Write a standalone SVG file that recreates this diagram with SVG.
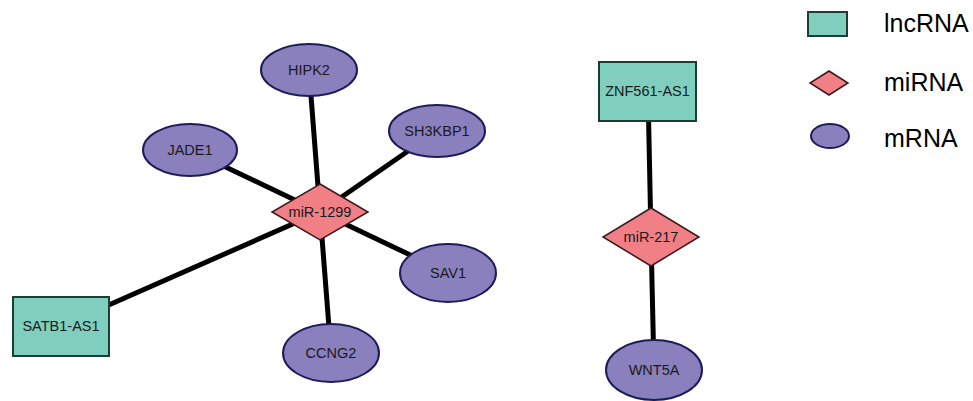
<svg xmlns="http://www.w3.org/2000/svg" width="973" height="401" viewBox="0 0 973 401">
<style>
.edge{stroke:#000;stroke-width:5;fill:none}
.lnc{fill:#80cfbe;stroke:#1b3d32;stroke-width:2}
.mir{fill:#f07f86;stroke:#3a1a1c;stroke-width:1.5}
.mrna{fill:#8a80bd;stroke:#1c1c58;stroke-width:2}
.lbl{font-family:"Liberation Sans",Arial,sans-serif;font-size:14.5px;fill:#1a1a1a;text-anchor:middle;dominant-baseline:central}
.leg{font-family:"Liberation Sans",Arial,sans-serif;font-size:25px;fill:#000}
</style>
<rect width="973" height="401" fill="#fff"/>
<g id="edges">
<line class="edge" x1="320" y1="212" x2="309" y2="70"/>
<line class="edge" x1="320" y1="212" x2="190" y2="150"/>
<line class="edge" x1="320" y1="212" x2="437" y2="131"/>
<line class="edge" x1="320" y1="212" x2="448" y2="273"/>
<line class="edge" x1="320" y1="212" x2="331" y2="353"/>
<line class="edge" x1="320" y1="212" x2="61" y2="326"/>
<line class="edge" x1="648" y1="91" x2="651" y2="237"/>
<line class="edge" x1="651" y1="237" x2="654" y2="370"/>
</g>
<g id="HIPK2"><ellipse class="mrna" cx="309" cy="70" rx="48" ry="26"/><text class="lbl" x="309" y="70">HIPK2</text></g>
<g id="JADE1"><ellipse class="mrna" cx="190" cy="150" rx="47" ry="26"/><text class="lbl" x="190" y="150">JADE1</text></g>
<g id="SH3KBP1"><ellipse class="mrna" cx="437" cy="131" rx="48" ry="26"/><text class="lbl" x="437" y="131">SH3KBP1</text></g>
<g id="SAV1"><ellipse class="mrna" cx="448" cy="273" rx="48" ry="29"/><text class="lbl" x="448" y="273">SAV1</text></g>
<g id="CCNG2"><ellipse class="mrna" cx="331" cy="353" rx="48" ry="29"/><text class="lbl" x="331" y="353">CCNG2</text></g>
<g id="miR-1299"><polygon class="mir" points="320,184 368,212 320,240 272,212"/><text class="lbl" x="320" y="212">miR-1299</text></g>
<g id="SATB1-AS1"><rect class="lnc" x="13" y="297" width="96" height="59"/><text class="lbl" x="61" y="326">SATB1-AS1</text></g>
<g id="ZNF561-AS1"><rect class="lnc" x="599" y="62" width="97" height="59"/><text class="lbl" x="647.5" y="91">ZNF561-AS1</text></g>
<g id="miR-217"><polygon class="mir" points="651,208 699,237 651,266 603,237"/><text class="lbl" x="651" y="237">miR-217</text></g>
<g id="WNT5A"><ellipse class="mrna" cx="654" cy="370" rx="48" ry="30"/><text class="lbl" x="654" y="370">WNT5A</text></g>
<g id="legend">
<rect class="lnc" x="808" y="12" width="39" height="24" stroke-width="1.5"/>
<text class="leg" x="884" y="32">lncRNA</text>
<polygon class="mir" points="829,71 848,83 829,95 810,83" stroke-width="1"/>
<text class="leg" x="884" y="91">miRNA</text>
<ellipse class="mrna" cx="830" cy="136" rx="19" ry="12" stroke-width="1.5"/>
<text class="leg" x="884" y="147">mRNA</text>
</g>
</svg>
